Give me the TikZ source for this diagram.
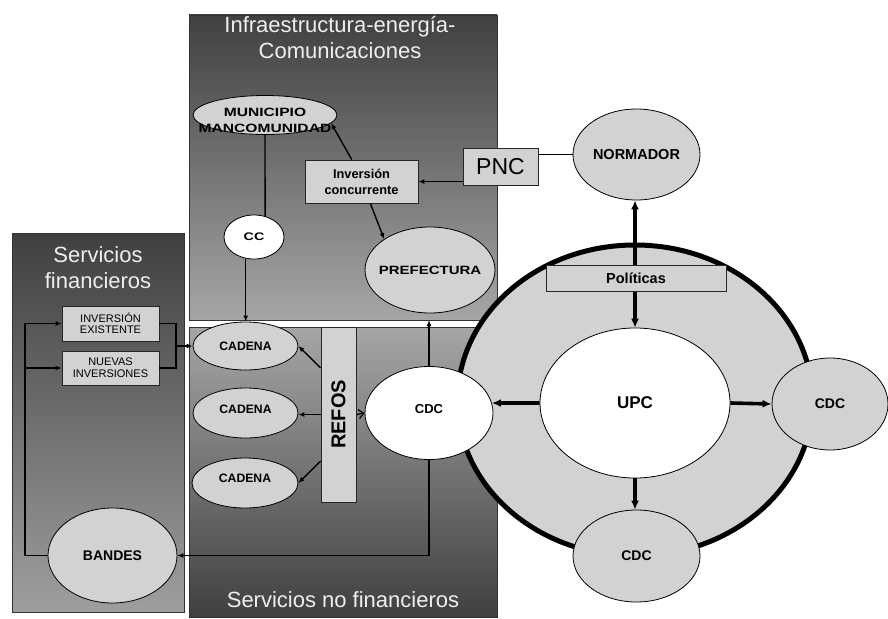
\documentclass[tikz,border=0pt]{standalone}
\usepackage{fontspec}
\usepackage{graphicx}
\setmainfont{Liberation Sans}
\usetikzlibrary{shapes.geometric,arrows.meta}
\definecolor{nodegray}{HTML}{D2D2D2}
\definecolor{paneldark}{HTML}{404040}
\definecolor{panellight}{HTML}{A6A6A6}
\definecolor{leftlight}{HTML}{9E9E9E}
\definecolor{titlecol}{HTML}{EEEEEE}
\begin{document}
\begin{tikzpicture}[x=1pt,y=-1pt,
  panel/.style={draw=black!80, line width=0.8pt},
  ptitle/.style={text=titlecol, font=\fontsize{22}{26}\selectfont, inner sep=0pt},
  ell/.style={ellipse, draw, line width=0.8pt, fill=nodegray, inner sep=0pt},
  whiteell/.style={ell, fill=white},
  box/.style={rectangle, draw=black!85, line width=0.8pt, fill=nodegray, inner sep=0pt, align=center},
  lab/.style={font=\bfseries\fontsize{14}{16}\selectfont, align=center, inner sep=0pt},
  conn/.style={line width=1.8pt, -{Latex[length=6pt,width=5pt]}},
  connthin/.style={line width=1.4pt, -{Latex[length=6pt,width=5pt]}},
  plain/.style={line width=1.8pt},
  heavy/.style={line width=3.6pt, -{Latex[length=9pt,width=8pt]}},
]
\useasboundingbox (0,0) rectangle (888,618);

% three service panels
\shadedraw[panel, top color=paneldark, bottom color=panellight] (189,15) rectangle (497,320);
\shadedraw[panel, top color=panellight, bottom color=paneldark] (189,327) rectangle (497,617);
\shadedraw[panel, top color=paneldark, bottom color=leftlight] (12,233) rectangle (184,612);

% panel titles
\node[ptitle, anchor=base] (t-infra1) at (340,33) {Infraestructura-energía-};
\node[ptitle, anchor=base] (t-infra2) at (340,59) {Comunicaciones};
\node[ptitle, anchor=base] (t-fin1) at (98,262) {Servicios};
\node[ptitle, anchor=base] (t-fin2) at (98,288) {financieros};
\node[ptitle, anchor=base] (t-nofin) at (343,607) {Servicios no financieros};

% policy ring
\node[ell, line width=5pt, minimum width=355pt, minimum height=311pt] (ring) at (635,400.5) {};

% infrastructure panel
\node[ell, minimum width=144pt, minimum height=39pt,
  label={[lab, yshift=-5pt]center:\scalebox{1.3}[1]{\fontsize{12}{17}\selectfont MUNICIPIO}\\\scalebox{1.3}[1]{\fontsize{12}{17}\selectfont MANCOMUNIDAD}}] (mun) at (265,115) {};
\node[whiteell, minimum width=60pt, minimum height=44pt,
  label={[lab]center:\scalebox{1.3}[1]{\fontsize{11}{13}\selectfont CC}}] (cc) at (254,237) {};
\node[ell, minimum width=130pt, minimum height=86pt,
  label={[lab]center:\scalebox{1.25}[1]{\fontsize{12}{14}\selectfont PREFECTURA}}] (pref) at (430,270) {};
\node[box, minimum width=113pt, minimum height=43pt,
  font=\bfseries\fontsize{12.8}{16}\selectfont] (ic) at (361.5,181.5) {Inversión\\concurrente};
\node[box, minimum width=75pt, minimum height=37pt,
  font=\fontsize{23}{26}\selectfont] (pnc) at (500.5,166.5) {PNC};
\node[ell, minimum width=127pt, minimum height=91pt,
  label={[lab, font=\bfseries\fontsize{14.5}{16}\selectfont]center:NORMADOR}] (norm) at (636.5,154.5) {};

% policy centre
\node[whiteell, minimum width=190pt, minimum height=150pt,
  label={[lab, font=\bfseries\fontsize{17}{19}\selectfont]center:UPC}] (upc) at (635,403) {};
\node[ell, minimum width=116pt, minimum height=92pt,
  label={[lab]center:CDC}] (cdcR) at (830,404) {};
\node[ell, minimum width=127pt, minimum height=92pt,
  label={[lab]center:CDC}] (cdcB) at (636.5,556) {};
\node[whiteell, minimum width=128pt, minimum height=93pt,
  label={[lab, font=\bfseries\fontsize{13}{15}\selectfont, yshift=4pt]center:CDC}] (cdcL) at (429,413) {};

% non-financial services
\node[box, minimum width=35pt, minimum height=175pt,
  label={[lab, font=\bfseries\fontsize{20}{22}\selectfont, rotate=90]center:REFOS}] (refos) at (338.5,414.5) {};
\node[ell, minimum width=105pt, minimum height=48pt,
  label={[lab, font=\bfseries\fontsize{12.2}{14}\selectfont]center:CADENA}] (cad1) at (245.5,346) {};
\node[ell, minimum width=105pt, minimum height=50pt,
  label={[lab, font=\bfseries\fontsize{12.2}{14}\selectfont, yshift=4pt]center:CADENA}] (cad2) at (245.5,413) {};
\node[ell, minimum width=106pt, minimum height=50pt,
  label={[lab, font=\bfseries\fontsize{12.2}{14}\selectfont, yshift=5pt]center:CADENA}] (cad3) at (245,483) {};

% financial services
\node[ell, minimum width=129pt, minimum height=95pt,
  label={[lab]center:BANDES}] (bandes) at (112.5,555.5) {};
\node[box, minimum width=97pt, minimum height=35pt,
  font=\fontsize{11}{11.5}\selectfont] (ie) at (110.5,323.5) {INVERSIÓN\\EXISTENTE};
\node[box, minimum width=97pt, minimum height=34pt,
  font=\fontsize{11}{12}\selectfont] (ni) at (110.5,368) {NUEVAS\\INVERSIONES};

% credit loop
\coordinate (loopx) at (25,0);
\coordinate (merge) at (176,346);
\draw[conn] (bandes.west) -- (bandes.west -| loopx) |- (ie.west);
\draw[conn] (loopx |- ni.west) -- (ni.west);
\draw[plain] (ie.east) -| (merge);
\draw[plain] (ni.east) -| (merge);
\draw[conn] (merge) -- (cad1.west);

% local links
\draw[line width=1.4pt] (mun.south) -- (cc.62);
\draw[connthin] (cc.249) -- (cc.249 |- cad1.north);
\draw[conn] (pnc.west |- ic.east) -- (ic.east);
\draw[connthin] (ic.114) -- (mun.-7);
\draw[connthin] (ic.-68) -- (pref.146);
\draw[line width=1pt] (pnc.east |- norm.west) -- (norm.west);

% policy arrows
\draw[heavy, {Latex[length=9pt,width=8pt]}-{Latex[length=9pt,width=8pt]}] (upc.north) -- (upc.north |- norm.south);
\node[box, minimum width=180pt, minimum height=26pt,
  font=\bfseries\fontsize{14.5}{16}\selectfont] (pol) at (636,278) {Políticas};
\draw[heavy] (upc.west) -- (cdcL.9);
\draw[heavy] (upc.east) -- (cdcR.west);
\draw[heavy] (upc.south) -- (upc.south |- cdcB.north);

% CDC links
\coordinate (gap) at (429,320);
\draw[conn] (cdcL.north) -- (cdcL.north |- gap);
\draw[conn] (cdcL.south) |- (bandes.east);

% REFOS links
\draw[connthin] (refos.111) -- (cad1.east);
\draw[connthin] (refos.west) -- (refos.west -| cad2.east);
\draw[connthin] (refos.-111) -- (cad3.east);
\draw[line width=1.2pt, -{Straight Barb[length=5pt,width=9pt]}] (refos.east) -- (cdcL.west);

\end{tikzpicture}
\end{document}
